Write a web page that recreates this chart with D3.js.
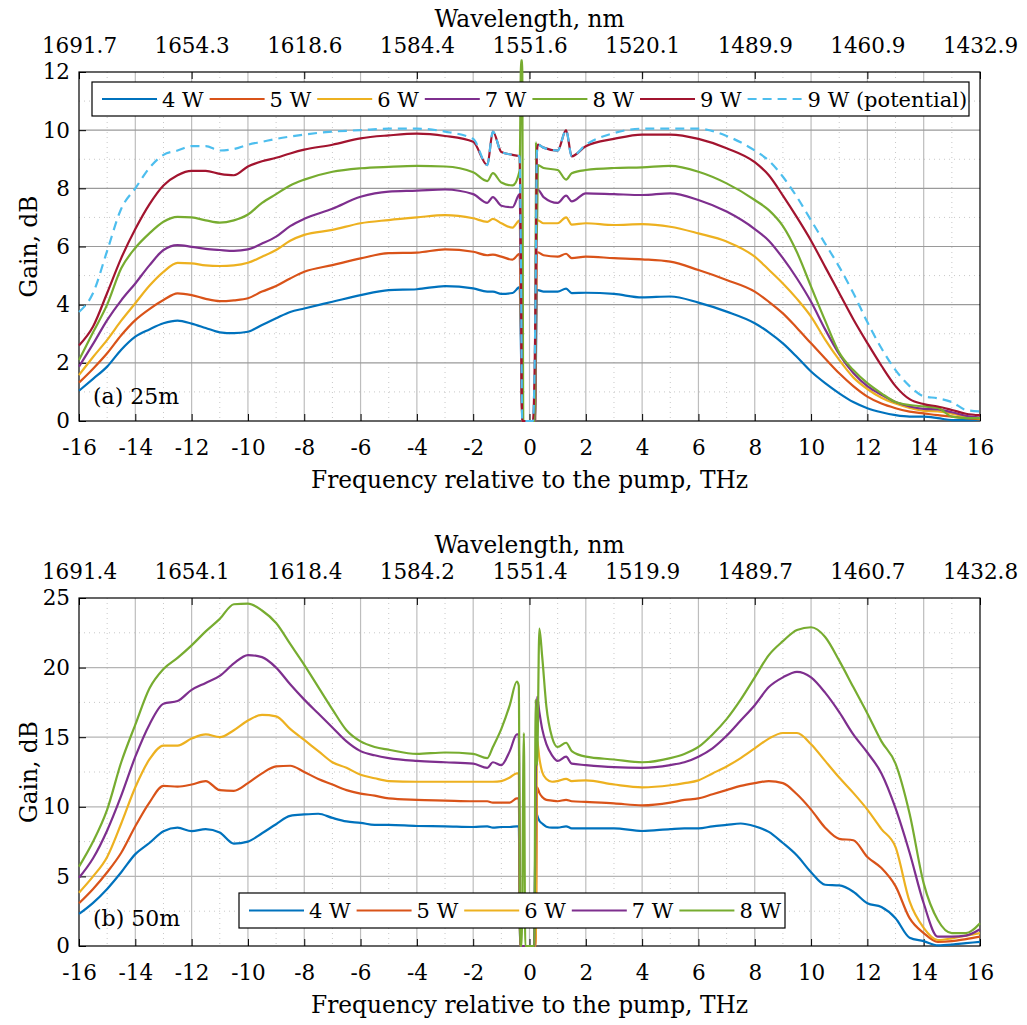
<!DOCTYPE html>
<html><head><meta charset="utf-8">
<script src="https://cdn.jsdelivr.net/npm/d3@7"></script>
<style>
body{margin:0;background:#fff}
svg{display:block}
text{font-family:"DejaVu Serif",serif;fill:#000}
</style>
</head><body>
<svg id="c" width="1027" height="1025"></svg>
<script>
// ---------- DATA ----------
const freqTop = [-16,-15.5,-15,-14.5,-14,-13.5,-13,-12.5,-12,-11.5,-11,-10.5,-10,-9.5,-9,-8.5,-8,-7,-6,-5,-4,-3,-2,-1.5,-1.3,-1,-0.6,-0.35,-0.3,-0.26,-0.22,0,0.12,0.2,0.23,0.26,0.3,0.5,1,1.3,1.5,2,3,4,5,6,7,8,8.5,9,9.5,10,10.5,11,11.5,12,12.5,13,13.5,14,14.5,15,15.5,16];
const top4W = [1.04,1.45,1.87,2.45,2.9,3.15,3.36,3.45,3.35,3.2,3.05,3.02,3.07,3.3,3.53,3.75,3.87,4.1,4.33,4.5,4.53,4.64,4.56,4.45,4.45,4.37,4.4,4.6,2.3,0,0,0,0,0,2.2,4.5,4.5,4.45,4.45,4.55,4.4,4.41,4.37,4.25,4.28,4.07,3.76,3.36,3.05,2.67,2.2,1.7,1.3,0.95,0.65,0.44,0.3,0.2,0.15,0.15,0.1,0.03,0.03,0.05];
const top5W = [1.32,1.8,2.33,2.95,3.47,3.85,4.16,4.39,4.33,4.2,4.12,4.15,4.22,4.45,4.64,4.9,5.13,5.36,5.59,5.77,5.79,5.9,5.82,5.7,5.72,5.65,5.55,5.75,2.9,0,0,0,0,0,2.9,5.8,5.8,5.7,5.65,5.75,5.6,5.65,5.6,5.56,5.48,5.19,4.85,4.45,4.1,3.7,3.2,2.67,2.15,1.64,1.2,0.84,0.6,0.44,0.32,0.26,0.2,0.15,0.1,0.06];
const top6W = [1.58,2.2,2.79,3.45,4.05,4.65,5.13,5.44,5.42,5.35,5.33,5.35,5.44,5.65,5.88,6.2,6.4,6.57,6.8,6.91,7.0,7.08,6.97,6.85,6.95,6.8,6.65,6.9,3.4,0,0,0,0,0,3.4,6.9,6.9,6.8,6.8,7.0,6.75,6.8,6.74,6.77,6.68,6.45,6.17,5.65,5.2,4.73,4.2,3.59,2.8,2.1,1.5,1.1,0.8,0.6,0.45,0.35,0.33,0.25,0.15,0.09];
const top7W = [1.87,2.65,3.47,4.15,4.73,5.35,5.88,6.05,5.99,5.92,5.88,5.85,5.9,6.1,6.34,6.7,6.95,7.3,7.71,7.89,7.92,7.96,7.8,7.5,7.7,7.4,7.35,7.8,3.9,0,0,0,0,0,3.9,7.95,7.95,7.7,7.5,7.75,7.55,7.83,7.8,7.77,7.83,7.6,7.2,6.6,6.2,5.6,4.9,4.1,3.15,2.3,1.65,1.2,0.9,0.65,0.5,0.42,0.4,0.3,0.18,0.12];
const top8W = [2.1,3.05,4.0,5.25,5.95,6.45,6.85,7.02,7.0,6.9,6.82,6.9,7.1,7.5,7.8,8.1,8.3,8.57,8.69,8.74,8.77,8.75,8.55,8.25,8.52,8.2,8.1,8.6,12.4,12.4,0,0,0,0,9.6,6.2,8.8,8.7,8.63,8.3,8.52,8.63,8.7,8.72,8.77,8.57,8.17,7.6,7.25,6.7,5.8,4.62,3.45,2.35,1.75,1.3,0.95,0.65,0.55,0.5,0.45,0.15,0.1,0.1];
const top9W = [2.6,3.25,4.4,5.6,6.6,7.45,8.1,8.45,8.6,8.6,8.5,8.45,8.75,8.93,9.05,9.2,9.33,9.5,9.72,9.82,9.88,9.8,9.6,8.8,9.95,9.25,9.15,9.1,5,0,0,0,0,3,6,9.2,9.5,9.4,9.3,10.0,9.1,9.45,9.7,9.85,9.85,9.7,9.38,8.9,8.45,7.75,7.0,6.2,5.3,4.4,3.5,2.68,1.9,1.2,0.75,0.58,0.5,0.38,0.25,0.2];
const top9Wpot = [3.75,4.4,5.85,7.3,8.0,8.7,9.15,9.3,9.45,9.45,9.3,9.35,9.5,9.6,9.7,9.78,9.85,9.95,10.0,10.05,10.05,9.95,9.7,8.8,9.95,9.25,9.15,9.1,5,0,0,0,0,3,6,9.2,9.5,9.4,9.3,10.0,9.1,9.5,9.9,10.05,10.05,10.05,9.8,9.3,8.95,8.4,7.7,6.9,6.1,5.3,4.4,3.4,2.5,1.75,1.2,0.85,0.78,0.65,0.38,0.33];

const freqBot = [-16,-15.5,-15,-14.5,-14,-13.5,-13,-12.5,-12,-11.5,-11,-10.5,-10,-9.5,-9,-8.5,-8,-7.5,-7,-6.5,-6,-5.5,-5,-4,-3,-2,-1.5,-1.3,-1,-0.7,-0.45,-0.38,-0.33,-0.28,-0.2,-0.15,0,0.08,0.17,0.22,0.27,0.35,0.45,0.6,0.8,1,1.3,1.5,2,3,4,5,5.5,6,6.5,7,7.5,8,8.5,9,9.5,10,10.5,11,11.5,12,12.5,13,13.5,14,14.5,15,15.5,16];
const bot4W = [2.3,3.1,4.1,5.3,6.6,7.4,8.25,8.5,8.25,8.4,8.15,7.35,7.5,8.1,8.75,9.35,9.45,9.5,9.2,8.95,8.85,8.7,8.7,8.62,8.6,8.55,8.6,8.5,8.55,8.55,8.6,8.6,0,0,0,0,0,0,0,9.8,9.4,9.0,8.8,8.57,8.5,8.5,8.6,8.45,8.45,8.45,8.26,8.4,8.45,8.45,8.6,8.7,8.8,8.6,8.2,7.4,6.5,5.3,4.4,4.35,3.9,3.07,2.8,2.0,0.6,0.35,0.05,0.1,0.2,0.3];
const bot5W = [3.07,4.1,5.3,6.7,8.6,10.3,11.5,11.45,11.6,11.85,11.2,11.15,11.7,12.4,12.9,12.95,12.5,12.0,11.6,11.2,10.95,10.8,10.6,10.5,10.45,10.4,10.4,10.3,10.3,10.3,10.6,10.6,0,0,0,0,0,0,0,0,11.4,11.0,10.7,10.5,10.45,10.4,10.5,10.4,10.35,10.25,10.1,10.3,10.5,10.6,10.9,11.2,11.5,11.7,11.85,11.7,10.9,9.8,8.5,7.7,7.6,6.4,5.6,4.3,2.0,0.93,0.3,0.35,0.5,0.67];
const bot6W = [3.83,5.0,6.4,8.8,11.4,13.4,14.4,14.4,14.9,15.2,15.0,15.5,16.2,16.6,16.5,15.6,14.8,14.0,13.2,12.8,12.3,12.05,11.85,11.8,11.8,11.8,11.8,11.8,11.85,12.1,12.4,12.4,0,0,0,0,0,0,0,0,14.8,13.5,12.5,12.0,11.8,11.85,12.0,11.85,11.9,11.6,11.4,11.55,11.7,11.9,12.4,12.9,13.5,14.2,14.9,15.3,15.3,14.5,13.3,12.1,11.0,9.8,8.4,7.1,3.2,1.3,0.43,0.55,0.75,0.93];
const bot7W = [4.9,6.3,8.3,10.8,13.6,15.9,17.4,17.6,18.4,18.9,19.4,20.3,20.9,20.75,20.0,18.8,17.7,16.7,15.7,14.7,14.0,13.7,13.5,13.3,13.2,13.1,12.8,13.2,13.0,14.0,15.2,15.2,0,0,0,0,0,0,0,11.2,17.9,16.8,15.6,14.5,13.7,13.3,13.6,13.1,13.0,12.85,12.8,13.0,13.2,13.6,14.2,15.1,16.2,17.3,18.6,19.3,19.7,19.3,18.2,16.8,15.2,13.9,12.4,9.9,6.7,3.07,0.67,0.67,0.75,1.2];
const bot8W = [5.7,7.5,9.8,13.2,15.9,18.5,19.9,20.7,21.6,22.6,23.5,24.55,24.6,24.1,23.2,21.7,20.2,18.6,17.0,15.5,14.7,14.3,14.1,13.8,13.9,13.8,13.5,14.3,15.6,17.3,19.0,18.7,0,0,15.3,0,0,0,0,17.7,13,22.8,20.8,17.2,15.0,14.3,14.6,14.0,13.6,13.4,13.2,13.5,13.8,14.3,15.2,16.3,17.7,19.3,20.9,21.9,22.7,22.9,22.2,20.5,18.6,16.7,14.7,13.1,9.5,4.5,1.87,0.93,0.93,1.64];

const namesTop = ["4 W","5 W","6 W","7 W","8 W","9 W","9 W (potential)"];
const namesBot = ["4 W","5 W","6 W","7 W","8 W"];
const colors = ["#0072BD","#D95319","#EDB120","#7E2F8E","#77AC30","#A2142F","#4DBEEE"];
const freqTicks = [-16,-14,-12,-10,-8,-6,-4,-2,0,2,4,6,8,10,12,14,16];
const wlTickFreq = [-16,-12,-8,-4,0,4,8,12,16];
const wlTop = ["1691.7","1654.3","1618.6","1584.4","1551.6","1520.1","1489.9","1460.9","1432.9"];
const wlBot = ["1691.4","1654.1","1618.4","1584.2","1551.4","1519.9","1489.7","1460.7","1432.8"];
const yTicksTop = [0,2,4,6,8,10,12];
const yMinorTop = [1,3,5,7,9,11];
const yTicksBot = [0,5,10,15,20,25];
const yMinorBot = [2.5,7.5,12.5,17.5,22.5];

// ---------- DRAW ----------
const svg = d3.select("#c");
const L = 79, R = 980, FS = 21.5, TFS = 23.3, LFS = 21;

function panel(o){
  const g = svg.append("g");
  const x = d3.scaleLinear().domain([-16,16]).range([L,R]);
  const y = d3.scaleLinear().domain([0,o.yMax]).range([o.bottom,o.top]);

  // minor grid
  const minorX = d3.range(-15,16,2);
  g.append("g").selectAll("line").data(minorX).join("line")
    .attr("x1",d=>x(d)).attr("x2",d=>x(d)).attr("y1",o.top).attr("y2",o.bottom)
    .attr("stroke","#c8c8c8").attr("stroke-dasharray","1,4");
  g.append("g").selectAll("line").data(o.yMinor).join("line")
    .attr("y1",d=>y(d)).attr("y2",d=>y(d)).attr("x1",L).attr("x2",R)
    .attr("stroke","#c8c8c8").attr("stroke-dasharray","1,4");
  // major grid
  g.append("g").selectAll("line").data(freqTicks.slice(1,-1)).join("line")
    .attr("x1",d=>x(d)).attr("x2",d=>x(d)).attr("y1",o.top).attr("y2",o.bottom)
    .attr("stroke",o.vGrid).attr("stroke-width",1.2);
  g.append("g").selectAll("line").data(o.yTicks.slice(1,-1)).join("line")
    .attr("y1",d=>y(d)).attr("y2",d=>y(d)).attr("x1",L).attr("x2",R)
    .attr("stroke",o.hGrid).attr("stroke-width",1.2);

  // axes
  const fmt = a => a.call(s=>s.select(".domain").remove())
    .call(s=>s.selectAll("text").attr("font-family","DejaVu Serif").attr("font-size",FS).attr("fill","#000"))
    .call(s=>s.selectAll("line").attr("stroke","#000"));
  g.append("g").attr("transform",`translate(0,${o.bottom})`)
    .call(d3.axisBottom(x).tickValues(freqTicks).tickSize(-7).tickPadding(19).tickFormat(d=>String(d))).call(fmt);
  g.append("g").attr("transform",`translate(0,${o.top})`)
    .call(d3.axisTop(x).tickValues(wlTickFreq).tickSize(-7).tickPadding(19).tickFormat((d,i)=>o.wl[i])).call(fmt);
  g.append("g").attr("transform",`translate(${L},0)`)
    .call(d3.axisLeft(y).tickValues(o.yTicks).tickSize(-7).tickPadding(9).tickFormat(d=>String(d))).call(fmt);

  // frame
  g.append("rect").attr("x",L).attr("y",o.top).attr("width",R-L).attr("height",o.bottom-o.top)
    .attr("fill","none").attr("stroke","#000").attr("stroke-width",1.2);

  // series
  const line = d3.line().x((d,i)=>x(o.freq[i])).y(d=>y(d)).curve(d3.curveMonotoneX);
  o.series.forEach((s,k)=>{
    g.append("path").datum(s).attr("d",line).attr("fill","none")
      .attr("stroke",colors[k]).attr("stroke-width",2.2)
      .attr("stroke-dasharray",k===6?"9,6":null).attr("stroke-linejoin","round");
  });

  // titles
  g.append("text").attr("x",(L+R)/2).attr("y",o.top-45).attr("text-anchor","middle")
    .attr("font-size",TFS).text("Wavelength, nm");
  g.append("text").attr("x",(L+R)/2).attr("y",o.bottom+67).attr("text-anchor","middle")
    .attr("font-size",TFS).text("Frequency relative to the pump, THz");
  g.append("text").attr("transform",`translate(37,${(o.top+o.bottom)/2}) rotate(-90)`)
    .attr("text-anchor","middle").attr("font-size",TFS).text("Gain, dB");
  g.append("text").attr("x",93).attr("y",o.labelY).attr("font-size",22).text(o.label);

  // legend
  const lg = o.legend;
  const lgG = g.append("g");
  lgG.append("rect").attr("x",lg.x).attr("y",lg.y).attr("width",lg.w).attr("height",lg.h)
    .attr("fill","#fff").attr("stroke","#000").attr("stroke-width",1.2);
  o.names.forEach((n,k)=>{
    const x0 = lg.x + 10 + k*107.6, cy = lg.y + lg.h/2;
    lgG.append("line").attr("x1",x0).attr("x2",x0+55).attr("y1",cy).attr("y2",cy)
      .attr("stroke",colors[k]).attr("stroke-width",2.2).attr("stroke-dasharray",k===6?"9,6":null);
    lgG.append("text").attr("x",x0+60).attr("y",cy).attr("dy","0.36em").attr("font-size",LFS).text(n);
  });
}

panel({top:72,bottom:421,yMax:12,yTicks:yTicksTop,yMinor:yMinorTop,wl:wlTop,freq:freqTop,
  series:[top4W,top5W,top6W,top7W,top8W,top9W,top9Wpot],names:namesTop,
  hGrid:"#9a9a9a",vGrid:"#bdbdbd",label:"(a) 25m",labelY:404,
  legend:{x:92,y:82,w:877,h:34}});
panel({top:598,bottom:946,yMax:25,yTicks:yTicksBot,yMinor:yMinorBot,wl:wlBot,freq:freqBot,
  series:[bot4W,bot5W,bot6W,bot7W,bot8W],names:namesBot,
  hGrid:"#b4b4b4",vGrid:"#bdbdbd",label:"(b) 50m",labelY:926,
  legend:{x:239,y:893,w:546,h:35}});
</script>
</body></html>
